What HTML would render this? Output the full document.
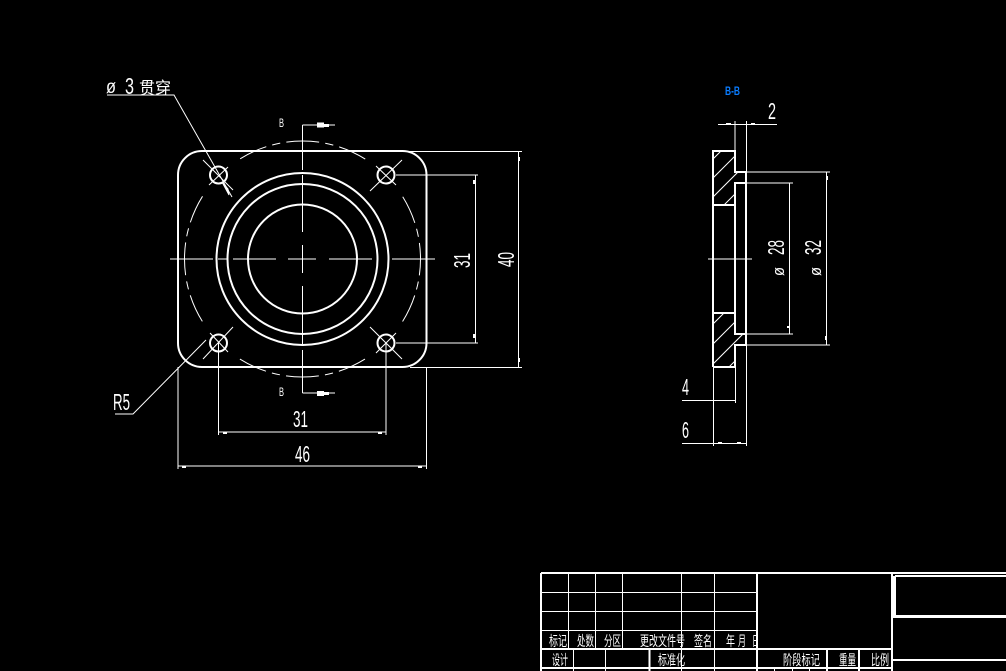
<!DOCTYPE html>
<html><head><meta charset="utf-8"><style>
html,body{margin:0;padding:0;background:#000;width:1006px;height:671px;overflow:hidden}
svg{display:block}
text{fill:#fff;font-family:"Liberation Sans","WenQuanYi Zen Hei","Noto Sans CJK SC",sans-serif}
.c{font-size:14px}
.d{font-size:23px}
</style></head><body>
<svg width="1006" height="671" viewBox="0 0 1006 671" xmlns="http://www.w3.org/2000/svg">
<rect width="1006" height="671" fill="#000"/>
<defs><clipPath id="h"><path d="M713 151H735V172H746V183H735V205H713Z"/></clipPath>
<clipPath id="h2"><path d="M713 313H735V334H746V345H735V367H713Z"/></clipPath></defs>

<g fill="none" stroke="#fff" stroke-width="2">
<rect x="178" y="151" width="248.5" height="216" rx="24"/>
<circle cx="302.5" cy="259" r="86"/>
<circle cx="302.5" cy="259" r="75"/>
<circle cx="302.5" cy="259" r="54.5"/>
<circle cx="218.5" cy="175" r="8.5"/>
<circle cx="386" cy="175" r="8.5"/>
<circle cx="218.5" cy="343" r="8.5"/>
<circle cx="386" cy="343" r="8.5"/>
</g>
<circle cx="302.5" cy="259" r="118" fill="none" stroke="#fff" stroke-width="1" stroke-dasharray="32.95 6.18 8.24 6.18 28.83 53.55 28.83 6.18 8.24 6.18" stroke-dashoffset="16.48"/>

<g stroke="#fff" stroke-width="1" fill="none">
<!-- centre lines -->
<path d="M170 259H213M218 259H227M233 259H276M288 259H316M329 259H372M392 259H435"/>
<path d="M302.5 125V170M302.5 175V232M302.5 245V273M302.5 286V345M302.5 350V393"/>
<path d="M302.5 125H335M302.5 393H335"/>
<!-- hole crosses -->
<path d="M203 160L233 190M228 167L209 185M402 160L370 191M376 166L396 185M370 327L402 359M396 333L376 353M233 327L203 359M210 333L228 352"/>
<!-- leaders -->
<path d="M107 95H174L232 197"/>
<path d="M115 414H133L206 340"/>
<!-- dims main view -->
<path d="M218.5 343V435M386 343V435M218.5 432H386"/>
<path d="M178 367V469M426.5 367V469M178 466H426.5"/>
<path d="M396 175H478M396 343H478M475.5 175V343"/>
<path d="M405 151.5H522M410 367.5H522M518.5 151.5V367.5"/>
<!-- section dims -->
<path d="M735 121V151M746.5 121V172M718 124.5H777"/>
<path d="M746 183H793M789.5 183V334M746 334H793"/>
<path d="M746 172H830M826.5 172V345M746 345H830"/>
<path d="M708 259H752"/>
<path d="M713.5 367V446M735.5 345V403M746.5 345V446M682 400.5H735.5M682 443.5H746.5"/>
<!-- hatch -->
<g clip-path="url(#h)"><path d="M700 172L772 100M700 191L772 119M700 210L772 138M700 229L772 157"/></g>
<g clip-path="url(#h2)"><path d="M700 337L772 265M700 357L772 285M700 377L772 305M700 396L772 324"/></g>
</g>

<!-- small arrow ticks -->
<g fill="#fff">
<rect x="317" y="122.5" width="7" height="5"/><rect x="324" y="124" width="5" height="3"/>
<rect x="317" y="391" width="7" height="5"/><rect x="324" y="392" width="5" height="3"/>
<path d="M222 182L228 189L229 195Z" stroke="#fff"/>
<rect x="223" y="432" width="4" height="2"/><rect x="378" y="432" width="4" height="2"/>
<rect x="182" y="466" width="4" height="2"/><rect x="418" y="466" width="4" height="2"/>
<rect x="473" y="180" width="2" height="4"/><rect x="473" y="334" width="2" height="4"/>
<rect x="518" y="157" width="2" height="4"/><rect x="518" y="358" width="2" height="4"/>
<rect x="726" y="123" width="5" height="2"/><rect x="751" y="123" width="4" height="2"/>
<rect x="718" y="442" width="4" height="2"/><rect x="737" y="442" width="4" height="2"/>
<rect x="787" y="326" width="2" height="2"/><rect x="826" y="176" width="2" height="4"/><rect x="825" y="336" width="2" height="4"/>
</g>

<!-- section outline -->
<g fill="none" stroke="#fff" stroke-width="2">
<path d="M713 367V151H735V172H746V345H735V367H713"/>
<path d="M746 183H735V334H746"/>
<path d="M713 205H735M713 313H735"/>
</g>

<!-- labels -->
<text x="106" y="93" font-size="19" textLength="10" lengthAdjust="spacingAndGlyphs">ø</text>
<text x="125" y="94" class="d" textLength="9" lengthAdjust="spacingAndGlyphs">3</text>
<text x="139" y="94" font-size="17" textLength="32" lengthAdjust="spacingAndGlyphs" style="font-family:'WenQuanYi Zen Hei','Noto Sans CJK SC',sans-serif">贯穿</text>
<text x="279" y="127" font-size="12" textLength="5" lengthAdjust="spacingAndGlyphs">B</text>
<text x="279" y="396" font-size="12" textLength="5" lengthAdjust="spacingAndGlyphs">B</text>
<text x="113" y="410" class="d" textLength="17" lengthAdjust="spacingAndGlyphs">R5</text>
<text x="293" y="427" class="d" textLength="15" lengthAdjust="spacingAndGlyphs">31</text>
<text x="295" y="462" class="d" textLength="15" lengthAdjust="spacingAndGlyphs">46</text>
<text transform="translate(470,268) rotate(-90)" class="d" textLength="15" lengthAdjust="spacingAndGlyphs">31</text>
<text transform="translate(514,267) rotate(-90)" class="d" textLength="15" lengthAdjust="spacingAndGlyphs">40</text>
<text x="768" y="119" class="d" textLength="8" lengthAdjust="spacingAndGlyphs">2</text>
<text x="725" y="95" font-size="12" font-weight="bold" textLength="15" lengthAdjust="spacingAndGlyphs" style="fill:#0a7cff">B-B</text>
<text transform="translate(784,276) rotate(-90)" font-size="17" textLength="9" lengthAdjust="spacingAndGlyphs">ø</text>
<text transform="translate(784,255) rotate(-90)" class="d" textLength="15" lengthAdjust="spacingAndGlyphs">28</text>
<text transform="translate(821,276) rotate(-90)" font-size="17" textLength="9" lengthAdjust="spacingAndGlyphs">ø</text>
<text transform="translate(821,255) rotate(-90)" class="d" textLength="15" lengthAdjust="spacingAndGlyphs">32</text>
<text x="682" y="395" class="d" textLength="7" lengthAdjust="spacingAndGlyphs">4</text>
<text x="682" y="438" class="d" textLength="7" lengthAdjust="spacingAndGlyphs">6</text>

<!-- title block -->
<g stroke="#fff" fill="none" stroke-width="1">
<path d="M541 592.5H757M541 611.5H757M541 630.5H757"/>
<path d="M568.5 573V649M595.5 573V649M622.5 573V649M681.5 573V671M714.5 573V671"/>
<path d="M573.5 649V671M605.5 649V671"/>
<path d="M774.5 668V671M792.5 668V671M809.5 668V671"/>
</g>
<g class="c">
<text class="c" x="549" y="646" textLength="18" lengthAdjust="spacingAndGlyphs">标记</text>
<text class="c" x="577" y="646" textLength="17" lengthAdjust="spacingAndGlyphs">处数</text>
<text class="c" x="604" y="646" textLength="17" lengthAdjust="spacingAndGlyphs">分区</text>
<text class="c" x="640" y="646" textLength="45" lengthAdjust="spacingAndGlyphs">更改文件号</text>
<text class="c" x="694" y="646" textLength="18" lengthAdjust="spacingAndGlyphs">签名</text>
<text class="c" x="726" y="646" textLength="9" lengthAdjust="spacingAndGlyphs">年</text>
<text class="c" x="738" y="646" textLength="8" lengthAdjust="spacingAndGlyphs">月</text>
<text class="c" x="752" y="646" textLength="8" lengthAdjust="spacingAndGlyphs">日</text>
<text class="c" x="552" y="665" textLength="16" lengthAdjust="spacingAndGlyphs">设计</text>
<text class="c" x="658" y="665" textLength="27" lengthAdjust="spacingAndGlyphs">标准化</text>
<text class="c" x="783" y="665" textLength="37" lengthAdjust="spacingAndGlyphs">阶段标记</text>
<text class="c" x="839" y="665" textLength="17" lengthAdjust="spacingAndGlyphs">重量</text>
<text class="c" x="871" y="665" textLength="18" lengthAdjust="spacingAndGlyphs">比例</text>
</g>
<rect x="758" y="632" width="133" height="16" fill="#000"/>
<g stroke="#fff" fill="none" stroke-width="2">
<path d="M541 573H1006M541 573V671M757 573V671M892 573V671"/>
<path d="M541 649H892M541 668H892"/>
<path d="M649.5 649V671M827 649V671M859 649V671"/>
<path d="M892 660H1006M895 576H1006"/>
</g>
<path d="M894.5 576V615" stroke="#fff" stroke-width="3" fill="none"/>
<path d="M892 616.5H1006" stroke="#fff" stroke-width="3" fill="none"/>
</svg>
</body></html>
